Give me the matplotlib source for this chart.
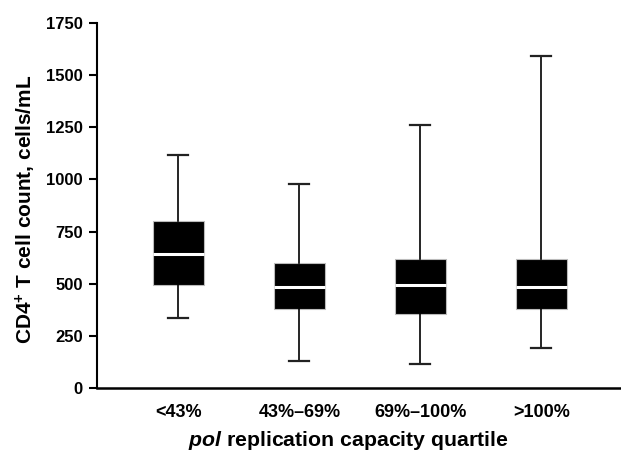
import matplotlib
matplotlib.use("Agg")
import matplotlib.pyplot as plt

plt.rcParams['font.family'] = ['Liberation Sans', 'DejaVu Sans']
plt.rcParams['mathtext.fontset'] = 'custom'
plt.rcParams['mathtext.rm'] = 'Liberation Sans:bold'
plt.rcParams['mathtext.bf'] = 'Liberation Sans:bold'
plt.rcParams['mathtext.it'] = 'Liberation Sans:italic:bold'

categories = ['<43%', '43%\u201369%', '69%\u2013100%', '>100%']
whisker_low = [336, 132, 118, 194]
q1 = [496, 381, 354, 381]
median = [645, 486, 494, 484]
q3 = [802, 601, 620, 620]
whisker_high = [1115, 976, 1260, 1591]
yticks = [0, 250, 500, 750, 1000, 1250, 1500, 1750]

fig = plt.figure(figsize=(6.21, 4.51), dpi=100)
ax = fig.add_axes([0.156, 0.139, 0.844, 0.811])

stats = []
for i, c in enumerate(categories):
    stats.append(dict(label=c, whislo=whisker_low[i], q1=q1[i], med=median[i],
                      q3=q3[i], whishi=whisker_high[i], fliers=[]))

positions = list(range(1, len(categories) + 1))
ax.bxp(stats, positions=positions, widths=0.42, patch_artist=True, showfliers=False,
       boxprops=dict(facecolor='black', edgecolor='#bbbbbb', linewidth=0.8),
       medianprops=dict(color='white', linewidth=2.2),
       whiskerprops=dict(color='black', linewidth=1.2),
       capprops=dict(color='#222222', linewidth=1.6),
       capwidths=0.165)

ax.set_xlim(0.327, 4.657)
ax.set_ylim(0, 1750)
ax.set_yticks(yticks)
ax.set_yticklabels([str(t) for t in yticks], fontsize=12, fontweight='bold')
ax.set_xticks(positions)
ax.set_xticklabels(categories, fontsize=13, fontweight='bold')
ax.tick_params(axis='x', length=0, pad=11)
ax.tick_params(axis='y', length=6, width=1.5, direction='out', pad=4)

for s in ['top', 'right']:
    ax.spines[s].set_visible(False)
ax.spines['left'].set_linewidth(1.5)
ax.spines['bottom'].set_linewidth(1.8)

ax.set_ylabel('CD4$^{\\mathbf{+}}$ T cell count, cells/mL', fontsize=15, fontweight='bold')
ax.yaxis.set_label_coords(-0.113, 0.49)
ax.set_xlabel('$\\mathit{pol}$ replication capacity quartile', fontsize=15.3, fontweight='bold')
ax.xaxis.set_label_coords(0.48, -0.11)

fig.savefig('out.png', dpi=100)
